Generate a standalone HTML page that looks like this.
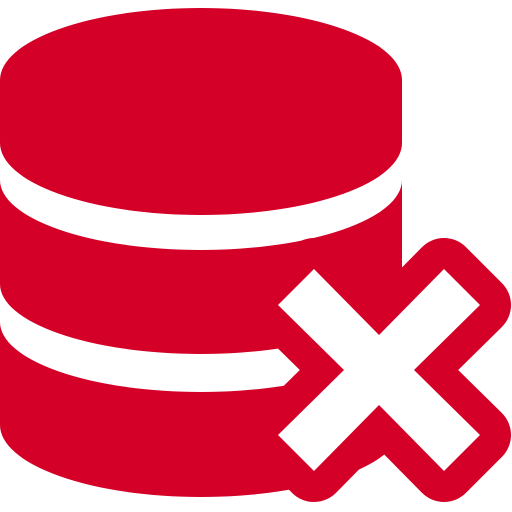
<!DOCTYPE html>
<html><head><style>html,body{margin:0;padding:0;background:#fff;}svg{display:block}</style></head>
<body>
<svg width="512" height="512" viewBox="0 0 512 512" xmlns="http://www.w3.org/2000/svg">
<g fill="#d40027">
<path d="M0,80 A201,72 0 0 1 402,80 V143 A201,72 0 0 1 0,143 Z"/>
<path d="M0,180 A201,70 0 0 0 402,180 V284 A201,70 0 0 1 0,284 Z"/>
<path d="M0,322 A201,70 0 0 0 402,322 V425 A201,72 0 0 1 0,425 Z"/>
</g>
<polygon points="379,335 444,269 480,305 414,370 480,435 444,471 379,405 314,471 278,435 344,370 278,305 314,269" fill="#d40027" stroke="#d40027" stroke-width="62" stroke-linejoin="round"/>
<polygon points="379,335 444,269 480,305 414,370 480,435 444,471 379,405 314,471 278,435 344,370 278,305 314,269" fill="#fff"/>
</svg>
</body></html>
